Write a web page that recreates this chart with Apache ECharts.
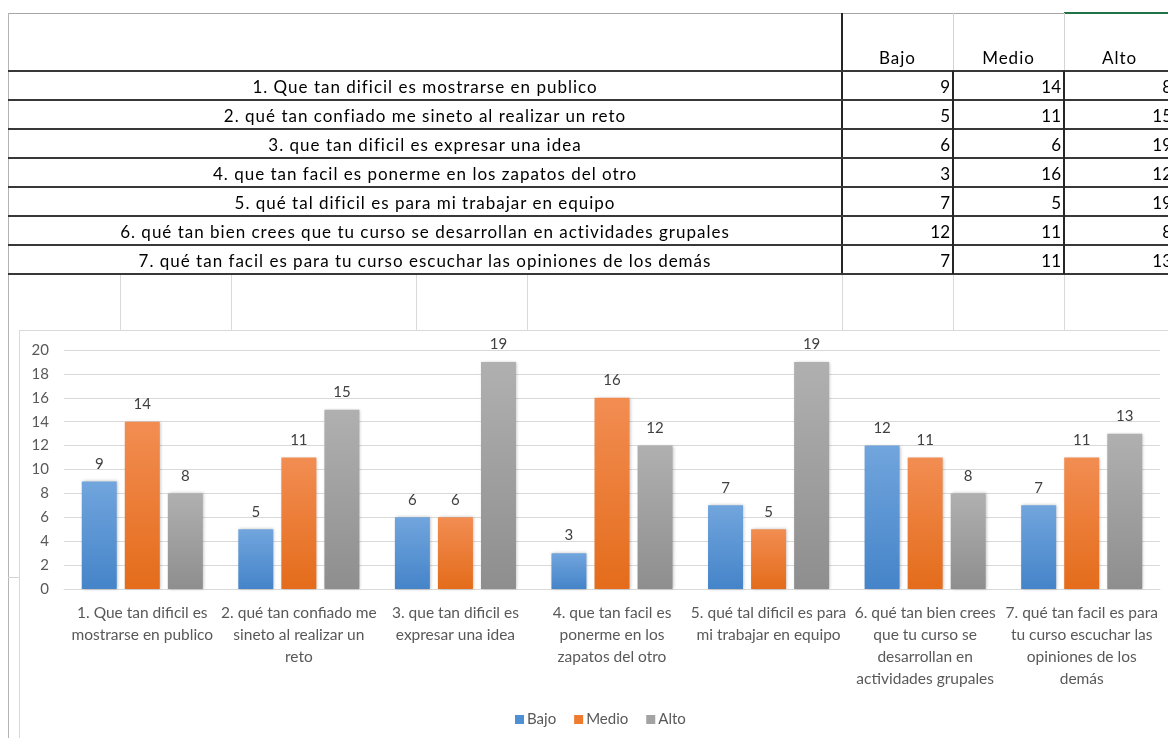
<!DOCTYPE html>
<html>
<head>
<meta charset="utf-8">
<script src="https://cdn.jsdelivr.net/npm/echarts@6/dist/echarts.min.js"></script>
<style>
  html, body { margin: 0; padding: 0; background: #fff; }
  body { width: 1168px; height: 738px; position: relative; overflow: hidden; font-family: Lato, "Noto Sans", sans-serif; }
  .ln { position: absolute; }
  .cell { position: absolute; box-sizing: border-box; font-size: 17px; color: #000; white-space: nowrap; overflow: hidden; }
  .txt { letter-spacing: 1px; }
  #chart { position: absolute; left: 0; top: 0; width: 1168px; height: 738px; z-index: 2; }
  #frame { position: absolute; left: 19px; top: 330px; width: 1170px; height: 420px; border: 1px solid #d9d9d9; background: #fff; z-index: 1; }
  #table { position: absolute; left: 0; top: 0; z-index: 3; }
</style>
</head>
<body>
<div id="frame"></div>
<div id="chart"></div>
<div id="table"></div>
<script>
// ---- data ----
const categories = [
  "1. Que tan dificil es mostrarse en publico",
  "2. qué tan confiado me sineto al realizar un reto",
  "3. que tan dificil es expresar una idea",
  "4. que tan facil es ponerme en los zapatos del otro",
  "5. qué tal dificil es para mi trabajar en equipo",
  "6. qué tan bien crees que tu curso se desarrollan en actividades grupales",
  "7. qué tan facil es para tu curso escuchar las opiniones de los demás"
];
const catLabels = [
  "1. Que tan dificil es\nmostrarse en publico",
  "2. qué tan confiado me\nsineto al realizar un\nreto",
  "3. que tan dificil es\nexpresar una idea",
  "4. que tan facil es\nponerme en los\nzapatos del otro",
  "5. qué tal dificil es para\nmi trabajar en equipo",
  "6. qué tan bien crees\nque tu curso se\ndesarrollan en\nactividades grupales",
  "7. qué tan facil es para\ntu curso escuchar las\nopiniones de los\ndemás"
];
const seriesNames = ["Bajo", "Medio", "Alto"];
const bajo  = [9, 5, 6, 3, 7, 12, 7];
const medio = [14, 11, 6, 16, 5, 11, 11];
const alto  = [8, 15, 19, 12, 19, 8, 13];
const yTicks = [0, 2, 4, 6, 8, 10, 12, 14, 16, 18, 20];

// ---- spreadsheet table (layout) ----
const T = document.getElementById('table');
function line(x, y, w, h, c) {
  const d = document.createElement('div');
  d.className = 'ln';
  d.style.cssText = `left:${x}px;top:${y}px;width:${w}px;height:${h}px;background:${c};`;
  T.appendChild(d);
}
function cell(x, y, w, h, txt, align, valign, extra) {
  const d = document.createElement('div');
  d.className = 'cell' + (extra ? ' ' + extra : '');
  d.style.cssText = `left:${x}px;top:${y}px;width:${w}px;height:${h}px;text-align:${align};` +
    `display:flex;align-items:${valign};justify-content:${align === 'right' ? 'flex-end' : 'center'};` +
    `padding:${align === 'right' ? '0 3px 0 0' : '0'};`;
  d.textContent = txt;
  T.appendChild(d);
}
const colX = [8, 842, 953, 1064, 1175];
const headTop = 13, rowTop = 71, rowH = 29;
const valueCols = [bajo, medio, alto];

seriesNames.forEach((n, j) => cell(colX[j + 1], headTop, colX[j + 2] - colX[j + 1], rowTop - headTop - 3, n, 'center', 'flex-end', 'txt'));
categories.forEach((c, i) => {
  const y = rowTop + i * rowH;
  cell(colX[0], y + 1, colX[1] - colX[0], rowH, c, 'center', 'center', 'txt');
  valueCols.forEach((arr, j) => cell(colX[j + 1], y + 1, colX[j + 2] - colX[j + 1], rowH, String(arr[i]), 'right', 'center'));
});
const tableBottom = rowTop + categories.length * rowH;
line(8, headTop, 1056, 1, '#a6a6a6');
line(1064, headTop - 1, 110, 2, '#217346');
line(8, headTop, 1, 738, '#b4b4b4');
line(953, headTop, 1, rowTop - headTop, '#d4d4d4');
line(1064, headTop, 1, rowTop - headTop, '#d4d4d4');
line(841, headTop, 2, tableBottom - headTop + 1, '#262626');
for (let i = 0; i <= categories.length; i++) line(8, rowTop + i * rowH - 1, 1160, 2, '#383838');
line(952, rowTop, 2, tableBottom - rowTop, '#262626');
line(1063, rowTop, 2, tableBottom - rowTop, '#262626');
[120, 231, 416, 527, 842, 953, 1064].forEach(x => line(x, tableBottom + 1, 1, 330 - tableBottom - 1, '#d9d9d9'));
line(8, 577, 11, 1, '#d4d4d4');

// ---- chart ----
const chart = echarts.init(document.getElementById('chart'), null, { renderer: 'canvas' });
function grad(top, bottom) {
  return new echarts.graphic.LinearGradient(0, 0, 0, 1, [
    { offset: 0, color: top }, { offset: 1, color: bottom }
  ]);
}
const colors = [grad('#71a5dd', '#4584c9'), grad('#f28d52', '#e46c1b'), grad('#b0b0b0', '#8e8e8e')];
const solid = ['#4f8fd4', '#ee7b2f', '#a3a3a3'];
const font = 'Lato, "Noto Sans", sans-serif';
const values = [bajo, medio, alto];

chart.setOption({
  backgroundColor: 'transparent',
  animation: false,
  textStyle: { fontFamily: font },
  grid: { left: 64, right: 8, top: 350, bottom: 149, containLabel: false },
  legend: {
    data: seriesNames.map((n, i) => ({ name: n, itemStyle: { color: solid[i] } })),
    left: 510, top: 707, icon: 'rect', itemWidth: 9, itemHeight: 9, itemGap: 18,
    textStyle: { fontSize: 15, color: '#595959', fontFamily: font, padding: [0, 0, 0, -2] }
  },
  xAxis: {
    type: 'category', data: catLabels,
    axisLine: { lineStyle: { color: '#d9d9d9', width: 1 } },
    axisTick: { show: false },
    axisLabel: { interval: 0, margin: 13, fontSize: 15.5, lineHeight: 22, color: '#595959', fontFamily: font }
  },
  yAxis: {
    type: 'value', min: 0, max: 20, interval: 2,
    axisLine: { show: false }, axisTick: { show: false },
    splitLine: { lineStyle: { color: '#d9d9d9', width: 1 } },
    axisLabel: { margin: 15, fontSize: 15, color: '#595959', fontFamily: font,
      formatter: v => yTicks.includes(v) ? String(v) : '' }
  },
  series: seriesNames.map((n, i) => ({
    name: n, type: 'bar', data: values[i],
    barWidth: 35, barGap: '23%',
    itemStyle: { color: colors[i], shadowBlur: 3, shadowColor: 'rgba(0,0,0,0.25)', shadowOffsetX: 1, shadowOffsetY: 0 },
    label: { show: true, position: 'top', distance: 10, fontSize: 15, color: '#404040', fontFamily: font }
  }))
});
</script>
</body>
</html>
